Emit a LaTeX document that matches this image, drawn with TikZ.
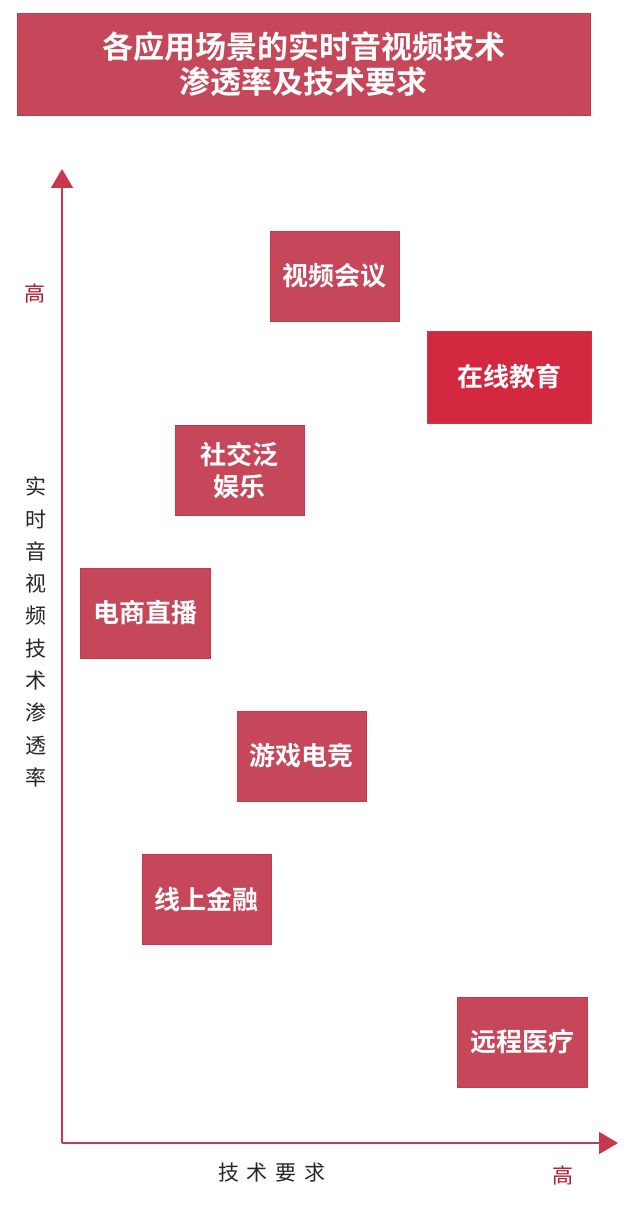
\documentclass[tikz,border=0pt]{standalone}
\usepackage{fontspec}
\newfontfamily\cjk{Noto Sans CJK SC}
\newfontfamily\cjkb{Noto Sans CJK SC Bold}
\usetikzlibrary{arrows.meta}
\definecolor{boxred}{HTML}{C6475A}
\definecolor{brightred}{HTML}{D42840}
\definecolor{axisred}{HTML}{C8374C}
\definecolor{labred}{HTML}{B0182C}
\tikzset{
  card/.style={fill=boxred, draw=axisred, line width=0.6pt, text=white, font=\cjkb\fontsize{26}{32}\selectfont, align=center, inner sep=0pt},
  axis/.style={draw=axisred, line width=1.6pt, -{Triangle[length=19pt,width=22pt]}},
  ylab/.style={font=\cjk\fontsize{21}{32.3}\selectfont, text=black!85, align=center},
  hi/.style={font=\cjk\fontsize{21}{24}\selectfont, text=labred},
}
\begin{document}
\begin{tikzpicture}[x=1pt,y=-1pt]
\useasboundingbox (0,0) rectangle (628,1206);
\fill[white] (0,0) rectangle (628,1206);
% title
\node[card, minimum width=573pt, minimum height=102pt, font=\cjkb\fontsize{31}{35}\selectfont] (title) at (303.5,64) {各应用场景的实时音视频技术\\渗透率及技术要求};
% axes
\coordinate (origin) at (62,1143);
\coordinate (ytip) at (62,169);
\coordinate (xtip) at (618,1143);
\draw[axis] (origin) -- (ytip);
\draw[axis] (origin) -- (xtip);
% labels
\node[hi] (yhigh) at (35,293) {高};
\node[hi] (xhigh) at (563,1175) {高};
\node[ylab] (ylabel) at (36,632) {实\\时\\音\\视\\频\\技\\术\\渗\\透\\率};
\node[font=\cjk\fontsize{21}{24}\selectfont, text=black!85] (xlabel) at (272,1173) {技\hspace{8pt}术\hspace{8pt}要\hspace{8pt}求};
% boxes
\node[card, minimum width=129pt, minimum height=90pt] (b1) at (334.5,276) {视频会议};
\node[card, fill=brightred, minimum width=164pt, minimum height=92pt] (b2) at (509,377) {在线教育};
\node[card, minimum width=129pt, minimum height=90pt, font=\cjkb\fontsize{26}{32}\selectfont] (b3) at (239.5,470) {社交泛\\娱乐};
\node[card, minimum width=130pt, minimum height=90pt] (b4) at (145,613) {电商直播};
\node[card, minimum width=129pt, minimum height=90pt] (b5) at (301.5,756) {游戏电竞};
\node[card, minimum width=129pt, minimum height=90pt] (b6) at (206.5,899) {线上金融};
\node[card, minimum width=130pt, minimum height=90pt] (b7) at (522,1042) {远程医疗};
\end{tikzpicture}
\end{document}
